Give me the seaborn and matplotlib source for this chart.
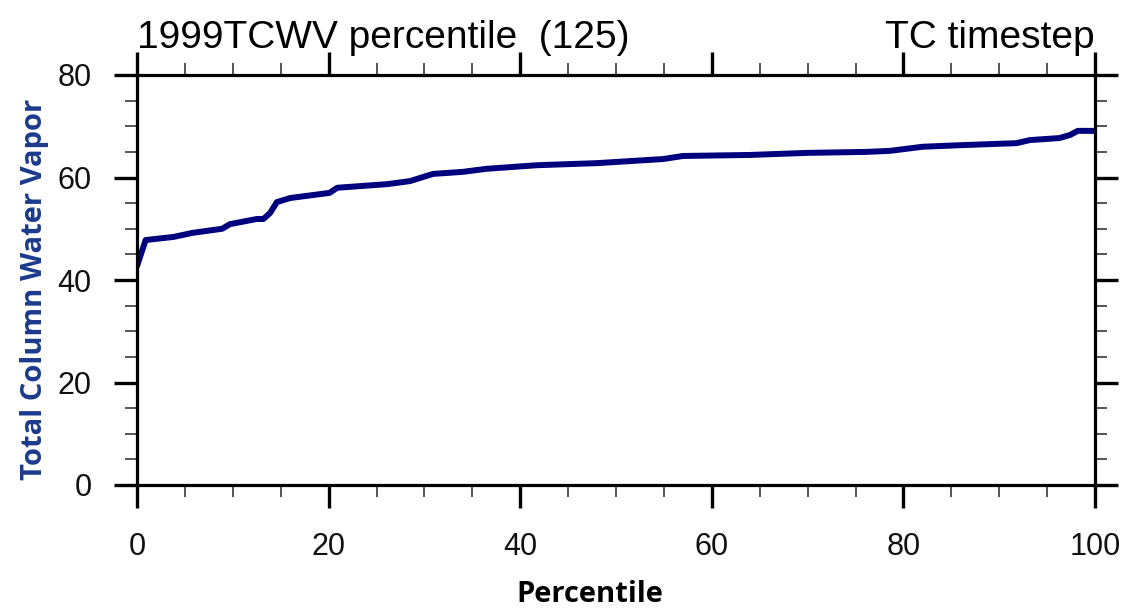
import matplotlib
matplotlib.use("Agg")
import matplotlib.pyplot as plt
from matplotlib.ticker import MultipleLocator
import seaborn as sns
import pandas as pd

# Percentile curve of total column water vapour
percentile = [0, 0.9, 3.8, 5.8, 8.9, 9.7, 12.5, 13.2, 13.9, 14.6, 16, 20.1, 20.9,
              26.1, 28.5, 30.9, 34, 36.5, 41.8, 48, 54.9, 57, 64, 69.9, 76.2,
              78.6, 82, 85.9, 91.8, 93.2, 96.3, 97.4, 98.2, 100]
tcwv = [42.7, 47.8, 48.4, 49.2, 50.0, 50.9, 51.9, 51.9, 53.1, 55.2, 56.0, 57.0,
        58.0, 58.7, 59.3, 60.7, 61.1, 61.7, 62.4, 62.8, 63.6, 64.2, 64.4, 64.8,
        65.0, 65.2, 66.0, 66.3, 66.7, 67.3, 67.7, 68.3, 69.1, 69.1]

left_title = "1999TCWV percentile  (125)"
right_title = "TC timestep"
x_label = "Percentile"
y_label = "Total Column Water Vapor"

df = pd.DataFrame({"percentile": percentile, "tcwv": tcwv})

sns.set_theme(style="white")
plt.rcParams["font.family"] = ["Liberation Sans", "DejaVu Sans"]

fig = plt.figure(figsize=(11.28, 6.12), dpi=100)
ax = fig.add_axes([137 / 1128, 1 - 485 / 612, (1095 - 137) / 1128, (485 - 75) / 612])

sns.lineplot(data=df, x="percentile", y="tcwv", ax=ax, color="#00007f",
             linewidth=4.3, solid_joinstyle="round", solid_capstyle="round")

ax.set_xlim(0, 100)
ax.set_ylim(0, 80)
ax.xaxis.set_major_locator(MultipleLocator(20))
ax.xaxis.set_minor_locator(MultipleLocator(5))
ax.yaxis.set_major_locator(MultipleLocator(20))
ax.yaxis.set_minor_locator(MultipleLocator(5))

for s in ax.spines.values():
    s.set_visible(True)
    s.set_color("black")
    s.set_linewidth(2.3)

ax.tick_params(which="both", direction="out", bottom=True, left=True,
               top=True, right=True, labeltop=False, labelright=False)
ax.tick_params(which="major", length=16.5, width=2.4, color="black",
               labelsize=22, labelcolor="#111111")
ax.tick_params(which="minor", length=8.3, width=1.4, color="#555555")
ax.tick_params(axis="y", which="major", pad=16)
ax.tick_params(axis="x", which="major", pad=17)

ax.set_xlabel(x_label, fontsize=21, fontweight="bold", family="Open Sans",
              color="black")
ax.xaxis.set_label_coords((590 - 137) / 958, -0.232)
ax.set_ylabel(y_label, fontsize=21, fontweight="bold", family="Open Sans",
              color="#1b3a8c")
ax.yaxis.set_label_coords(-0.092, 0.478)

ax.text(0.0, 1.066, left_title, transform=ax.transAxes, ha="left", va="baseline",
        fontsize=28, color="black")
ax.text(1.0, 1.066, right_title, transform=ax.transAxes, ha="right", va="baseline",
        fontsize=28, color="black")

fig.savefig("out.png", dpi=100)
